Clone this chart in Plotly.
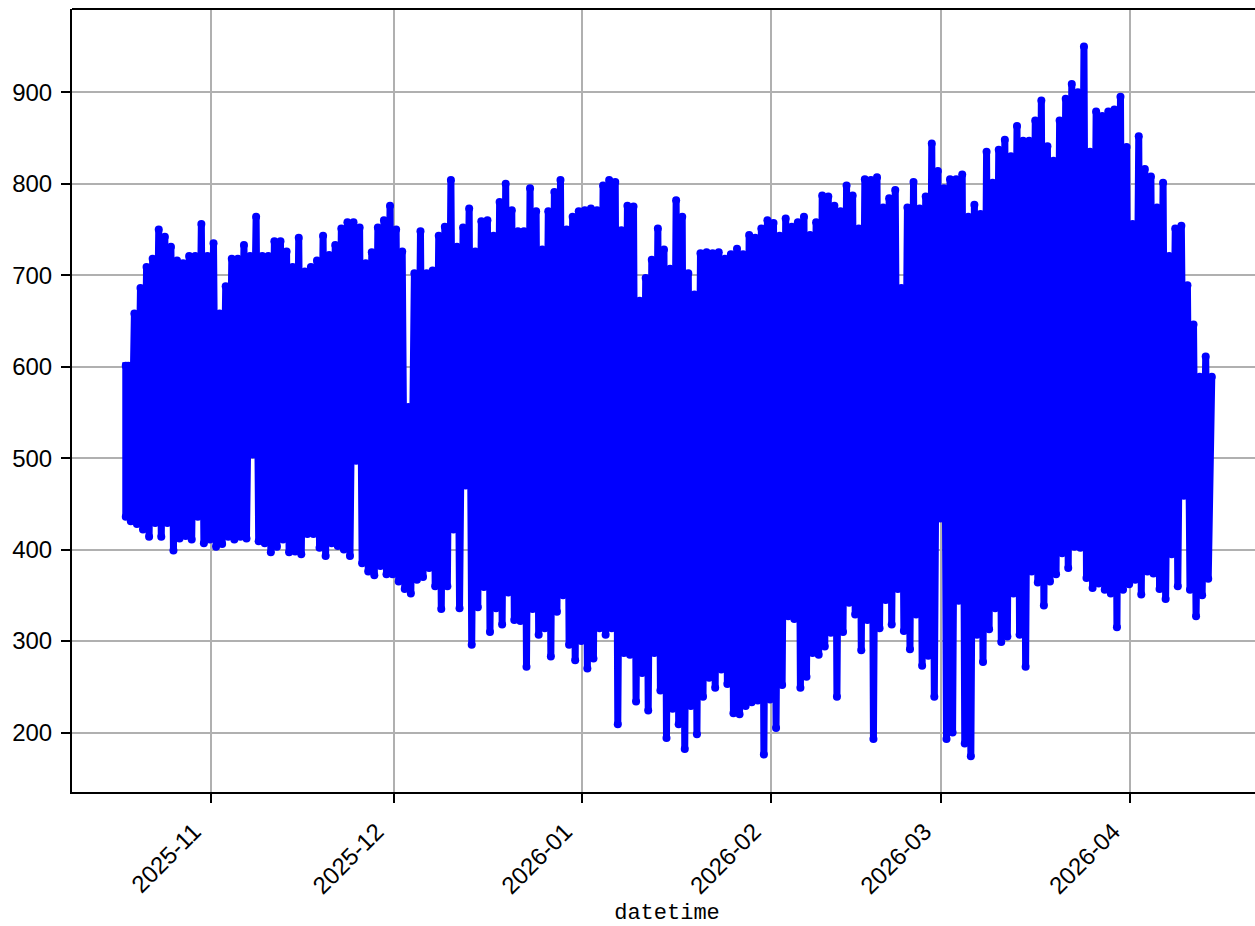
import pandas as pd
import plotly.graph_objects as go

start_date = "2025-10-18"
first_low = 436
daily_high = [
    601,658,686,709,718,750,742,731,716,713,721,721,756,721,735,658,688,718,718,733,
    721,764,721,721,737,737,726,709,741,704,709,716,743,722,733,751,758,758,752,713,
    725,752,760,776,750,726,556,702,748,702,705,743,753,804,731,752,773,726,759,760,
    743,780,800,771,748,748,795,770,728,770,791,804,750,764,770,771,773,771,798,804,
    802,749,776,775,672,697,717,751,728,707,782,764,702,679,724,725,724,725,718,723,
    729,723,744,741,751,760,757,743,762,753,758,764,744,758,787,786,776,770,798,787,
    751,805,804,807,774,784,793,686,774,802,773,786,844,814,795,805,805,810,764,777,
    767,835,801,837,848,830,863,847,847,869,891,841,825,869,893,909,900,950,835,879,
    874,879,881,895,840,756,852,816,808,774,801,721,751,754,689,646,589,611,589,
]
daily_low = [
    431,428,422,414,429,414,429,399,412,415,411,436,407,411,403,406,414,411,414,412,
    504,409,407,397,403,411,397,398,395,417,417,402,393,407,404,400,393,497,385,376,
    372,382,373,373,365,357,352,367,370,380,360,335,360,422,336,470,296,337,359,310,
    336,318,353,323,322,272,335,307,314,283,332,350,296,279,300,270,281,314,307,314,
    209,287,285,234,265,224,287,246,194,226,209,182,229,198,239,260,249,269,253,221,
    220,229,233,235,176,236,205,252,327,324,249,261,287,285,294,309,239,310,342,329,
    290,323,193,314,345,318,357,311,291,329,273,284,239,434,193,200,344,188,174,307,
    277,313,336,299,305,352,307,272,376,364,339,365,373,396,380,403,402,369,358,363,
    356,352,315,356,362,367,351,376,374,357,346,395,360,459,356,327,350,368,
]
y_ticks = [200, 300, 400, 500, 600, 700, 800, 900]
x_ticks = ["2025-11-01", "2025-12-01", "2026-01-01", "2026-02-01", "2026-03-01", "2026-04-01"]
x_tick_labels = ["2025-11", "2025-12", "2026-01", "2026-02", "2026-03", "2026-04"]

days = pd.date_range(start_date, periods=len(daily_high), freq="D")
times = [days[0], days[0]]
values = [first_low, daily_high[0]]
for i, day in enumerate(days):
    times.append(day + pd.Timedelta(hours=10))
    values.append(daily_high[i])
    if i < len(daily_low):
        times.append(day + pd.Timedelta(hours=20))
        values.append(daily_low[i])

fig = go.Figure(go.Scatter(
    x=times, y=values, mode="lines+markers",
    line=dict(color="#0000ff", width=7),
    marker=dict(color="#0000ff", size=8),
    showlegend=False, cliponaxis=True,
))

axis_common = dict(
    showline=True, linecolor="black", linewidth=2,
    ticks="outside", ticklen=9, tickwidth=2, tickcolor="black",
    showgrid=True, gridcolor="#b0b0b0", gridwidth=2, zeroline=False,
    tickfont=dict(family="Liberation Sans", size=24, color="black"),
)
fig.update_xaxes(
    type="date", range=["2025-10-09 04:00", "2026-04-22 16:00"],
    tickmode="array", tickvals=x_ticks, ticktext=x_tick_labels, tickangle=-45,
    ticklabelshift=-17, ticklabelstandoff=5,
    title=dict(text="datetime", standoff=8,
               font=dict(family="Liberation Mono", size=22, color="black")),
    **axis_common,
)
fig.update_yaxes(
    range=[135, 991], tickmode="array", tickvals=y_ticks, ticklabelstandoff=4,
    **axis_common,
)
# the right edge of the axes runs past the window and the right spine is cut off
fig.add_shape(type="line", xref="paper", yref="paper", x0=0, x1=1, y0=1, y1=1,
              line=dict(color="black", width=2), layer="above")
fig.update_layout(
    width=1262, height=926, autosize=False,
    margin=dict(l=72, r=0, t=9, b=134, autoexpand=False),
    paper_bgcolor="white", plot_bgcolor="white",
)
fig.write_html(
    "out.html",
    config={"displayModeBar": False},
    post_script="document.body.style.margin='0';document.body.style.overflow='hidden';"
                "document.documentElement.style.overflow='hidden';",
)
